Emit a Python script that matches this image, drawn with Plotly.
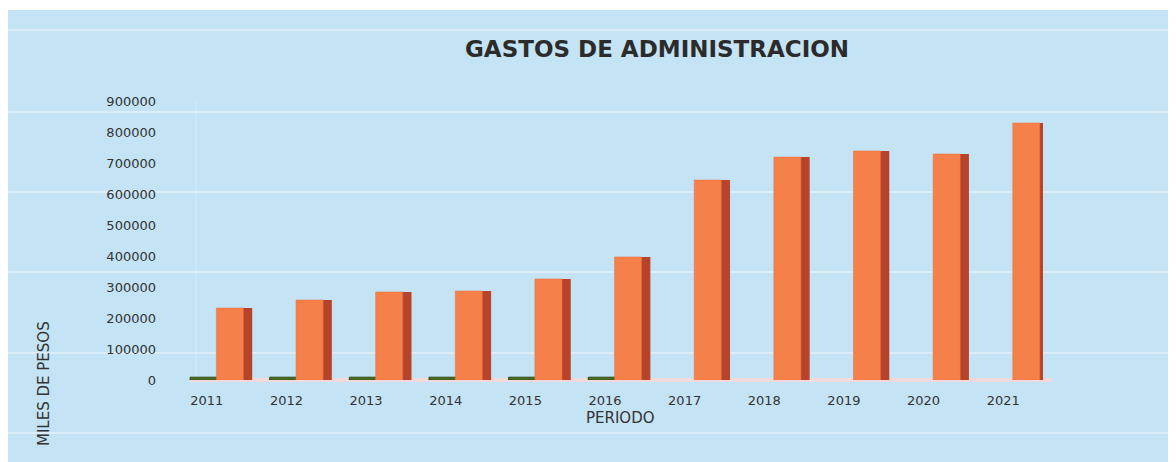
import plotly.graph_objects as go

periodos = ["2011", "2012", "2013", "2014", "2015", "2016", "2017", "2018", "2019", "2020", "2021"]
gastos_admin = [232000, 258000, 284000, 287000, 326000, 397000, 645000, 719000, 739000, 729000, 829000]
serie_verde = [9000, 9000, 9000, 9000, 9000, 9000, None, None, None, None, None]
y_ticks = [0, 100000, 200000, 300000, 400000, 500000, 600000, 700000, 800000, 900000]

W, H = 1176, 462
OFF = 8  # page offset of the figure in the browser window
# plot area in window pixels
PL, PR, PT, PB = 167, 1043, 101, 380
L, T = PL - OFF, PT - OFF
pw, ph = PR - PL, PB - PT
R, B = W - L - pw, H - T - ph

def px(p):
    return (p - PL) / pw

def py(p):
    return (PB - p) / ph

BG = "#c4e3f5"
FONT = "DejaVu Sans, Verdana, sans-serif"
fig = go.Figure()

fig.add_trace(go.Bar(x=periodos, y=serie_verde, width=0.34, offset=-0.21,
                     marker=dict(color="#4f6f22", line=dict(color="#2f4a12", width=1)),
                     hoverinfo="skip"))
fig.add_trace(go.Bar(x=periodos, y=gastos_admin, width=0.17, offset=0.40,
                     marker=dict(color="#b7432b", line=dict(width=0)),
                     hoverinfo="skip"))
fig.add_trace(go.Bar(x=periodos, y=gastos_admin, width=0.34, offset=0.12,
                     marker=dict(color="#f6804a", line=dict(color="#e86f3e", width=0.5)),
                     name="Gastos de administración"))

shapes = []
for yy in [30, 112, 192, 272, 353, 433]:
    shapes.append(dict(type="line", xref="paper", yref="paper", x0=px(0), x1=px(W + 20), y0=py(yy), y1=py(yy),
                       line=dict(color="rgba(255,255,255,0.5)", width=1.5), layer="below"))
shapes.append(dict(type="line", xref="paper", yref="paper", x0=px(190), x1=px(1052), y0=py(380), y1=py(380),
                   line=dict(color="#f2d9dc", width=4), layer="below"))
shapes.append(dict(type="line", xref="paper", yref="paper", x0=px(196), x1=px(196), y0=py(380), y1=py(100),
                   line=dict(color="rgba(255,255,255,0.35)", width=1), layer="below"))
shapes.append(dict(type="rect", xref="paper", yref="paper", x0=px(0), x1=px(W + 20), y0=py(10), y1=py(0),
                   fillcolor="white", line=dict(width=0), layer="below"))

fig.update_layout(
    width=W, height=H,
    margin=dict(l=L, r=R, t=T, b=B),
    paper_bgcolor=BG,
    plot_bgcolor="rgba(0,0,0,0)",
    barmode="overlay",
    showlegend=False,
    shapes=shapes,
    font=dict(family=FONT, color="#333333"),
    title=dict(text="<b>GASTOS DE ADMINISTRACION</b>", x=(657 - OFF) / W, xanchor="center", xref="container",
               y=1 - (49 - OFF) / H, yanchor="middle", yref="container",
               font=dict(size=23, color="#2b2b2b", family=FONT)),
    xaxis=dict(type="category", range=[-0.5, 10.5], showgrid=False, showline=False, zeroline=False,
               ticks="", tickfont=dict(size=13, color="#333333"), ticklabelstandoff=11),
    yaxis=dict(range=[0, 900000], tickvals=y_ticks, ticktext=[str(v) for v in y_ticks],
               showgrid=False, zeroline=False, showline=False, ticks="",
               tickfont=dict(size=13, color="#333333"), ticklabelstandoff=10),
    annotations=[
        dict(text="PERIODO", xref="paper", yref="paper", x=px(620), y=py(418), showarrow=False,
             font=dict(size=15, color="#333333"), xanchor="center", yanchor="middle"),
        dict(text="MILES DE PESOS", xref="paper", yref="paper", x=px(44), y=py(384), showarrow=False,
             textangle=-90, font=dict(size=15, color="#333333"), xanchor="center", yanchor="middle"),
    ],
)

fig.write_html("out.html")
